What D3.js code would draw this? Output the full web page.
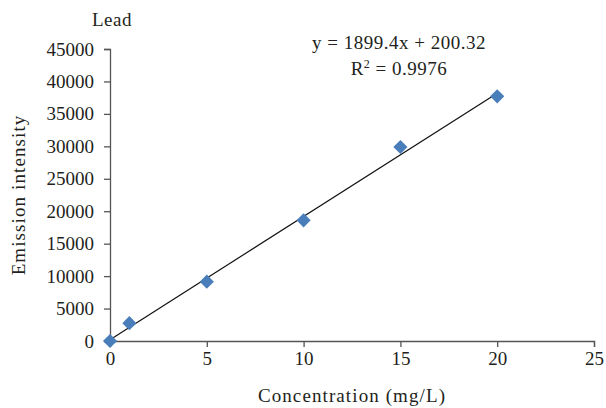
<!DOCTYPE html>
<html lang="en">
<head>
<meta charset="utf-8">
<script src="https://cdn.jsdelivr.net/npm/d3@7/dist/d3.min.js"></script>
<style>
  body { margin: 0; background: #fff; }
  svg text { font-family: "Liberation Serif", "DejaVu Serif", serif; fill: #231f20; }
</style>
</head>
<body>
<svg id="chart" width="606" height="408"></svg>
<script>
// concentration (mg/L) and measured emission intensity
var conc = [0, 1, 5, 10, 15, 20];
var intensity = [0, 2750, 9150, 18600, 29900, 37700];
var xTicks = [0, 5, 10, 15, 20, 25];
var yTicks = [0, 5000, 10000, 15000, 20000, 25000, 30000, 35000, 40000, 45000];
var slope = 1899.4, intercept = 200.32;

var svg = d3.select("#chart");
var margin = {top: 49, right: 12, bottom: 67, left: 110};
var width = +svg.attr("width") - margin.left - margin.right;
var height = +svg.attr("height") - margin.top - margin.bottom;
var fs = "19px";

var g = svg.append("g")
    .attr("transform", "translate(" + margin.left + "," + margin.top + ")");

var x = d3.scaleLinear().domain([0, 25]).range([0, width]);
var y = d3.scaleLinear().domain([0, 45000]).range([height, 0]);

// axes
var xAxis = g.append("g")
    .attr("transform", "translate(0," + height + ")")
    .call(d3.axisBottom(x).tickValues(xTicks).tickFormat(d3.format("d")).tickSize(6).tickPadding(5));
var yAxis = g.append("g")
    .call(d3.axisLeft(y).tickValues(yTicks).tickFormat(d3.format("d")).tickSize(6).tickPadding(10));

[xAxis, yAxis].forEach(function(ax) {
    ax.select(".domain").attr("stroke", "#555").attr("stroke-width", 1.3);
    ax.selectAll(".tick line").attr("stroke", "#555").attr("stroke-width", 1.3);
    ax.selectAll(".tick text").style("font-size", fs).attr("fill", "#231f20")
        .style("font-family", "'Liberation Serif', serif");
});

// trend line
g.append("line")
    .attr("x1", x(0)).attr("y1", y(intercept))
    .attr("x2", x(20)).attr("y2", y(slope * 20 + intercept))
    .attr("stroke", "#111").attr("stroke-width", 1.2);

// data points (square turned 45 degrees)
g.selectAll("path.pt")
    .data(conc)
    .enter().append("path")
    .attr("class", "pt")
    .attr("d", d3.symbol().type(d3.symbolSquare).size(100))
    .attr("transform", function(d, i) {
        return "translate(" + x(d) + "," + y(intensity[i]) + ") rotate(45)";
    })
    .attr("fill", "#4a7ebb");

// labels
svg.append("text").attr("x", 112).attr("y", 26).attr("text-anchor", "middle")
    .style("font-size", fs).style("letter-spacing", "0.5px").text("Lead");

svg.append("text").attr("x", 399).attr("y", 49).attr("text-anchor", "middle")
    .style("font-size", fs).style("letter-spacing", "0.5px").text("y = 1899.4x + 200.32");

var r2 = svg.append("text").attr("x", 399).attr("y", 75).attr("text-anchor", "middle")
    .style("font-size", fs).style("letter-spacing", "0.5px");
r2.append("tspan").text("R");
r2.append("tspan").attr("dy", -7).style("font-size", "12px").text("2");
r2.append("tspan").attr("dy", 7).text(" = 0.9976");

svg.append("text").attr("x", margin.left + width / 2).attr("y", 402)
    .attr("text-anchor", "middle").style("font-size", fs).style("letter-spacing", "1.1px")
    .text("Concentration (mg/L)");

svg.append("text")
    .attr("transform", "translate(25," + (margin.top + height / 2) + ") rotate(-90)")
    .attr("text-anchor", "middle").style("font-size", fs).style("letter-spacing", "1.1px")
    .text("Emission intensity");
</script>
</body>
</html>
